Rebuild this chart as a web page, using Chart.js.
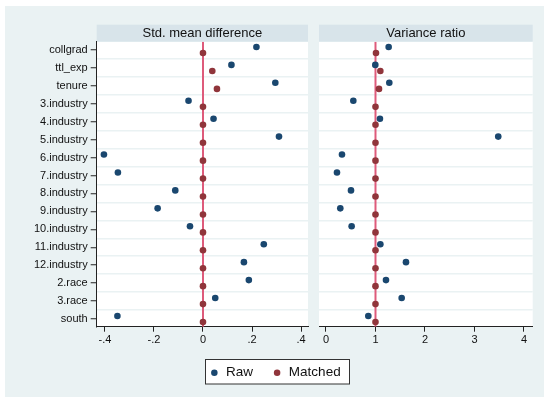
<!DOCTYPE html>
<html>
<head>
<meta charset="utf-8">
<script src="https://cdn.jsdelivr.net/npm/chart.js@4.4.1/dist/chart.umd.min.js"></script>
<style>
html, body { margin: 0; padding: 0; background: #fff; }
#wrap { position: relative; width: 544px; height: 400px; overflow: hidden; }
#bg { position: absolute; left: 5px; top: 6px; width: 539px; height: 391px; background: #eaf2f3; }
canvas { position: absolute; }
</style>
</head>
<body>
<div id="wrap">
  <div id="bg"></div>
  <canvas id="smd" width="312" height="360" style="left:0px;top:0px"></canvas>
  <canvas id="vr" width="232" height="360" style="left:312px;top:0px"></canvas>
  <canvas id="key" width="180" height="120" style="left:185.4px;top:346.5px"></canvas>
</div>
<script>
// balance check: raw vs matched sample
const variables = ["collgrad", "ttl_exp", "tenure", "3.industry", "4.industry", "5.industry",
    "6.industry", "7.industry", "8.industry", "9.industry", "10.industry", "11.industry",
    "12.industry", "2.race", "3.race", "south"];
const seriesNames = ["Raw", "Matched"];
const panelTitles = ["Std. mean difference", "Variance ratio"];

const rawSMD = [0.218, 0.116, 0.295, -0.059, 0.043, 0.310, -0.404, -0.347,
    -0.113, -0.185, -0.053, 0.248, 0.167, 0.187, 0.050, -0.349];
const matchedSMD = [0, 0.038, 0.057, 0, 0, 0, 0, 0, 0, 0, 0, 0, 0, 0, 0, 0];
const rawVR = [1.266, 0.996, 1.279, 0.552, 1.090, 3.480, 0.323, 0.222,
    0.505, 0.289, 0.518, 1.098, 1.616, 1.212, 1.529, 0.855];
const matchedVR = [1.010, 1.098, 1.071, 1, 1, 1, 1, 1, 1, 1, 1, 1, 1, 1, 1, 1];

const smdRef = 0;
const vrRef = 1;
const smdTicks = [-0.4, -0.2, 0, 0.2, 0.4];
const smdTickLabels = ["-.4", "-.2", "0", ".2", ".4"];
const vrTicks = [0, 1, 2, 3, 4];
const vrTickLabels = ["0", "1", "2", "3", "4"];

const NAVY = "#1a476f";
const MAROON = "#90353b";
const REFLINE = "#de5b7b";
const GRID = "#eaf2f3";
const STRIP = "#d8e4ea";
const INK = "#111";
const FONT = '"Liberation Sans", Arial, sans-serif';
const Y_MIN = -0.463, Y_MAX = 15.43;
const SHIFT = 0.17; // raw a bit above, matched a bit below the row

function pts(vals, shift) {
    return vals.map((v, i) => ({ x: v, y: i + shift }));
}

const header = {
    id: "header",
    beforeDraw(chart, args, opts) {
        const { ctx, chartArea: a } = chart;
        ctx.save();
        ctx.fillStyle = "#fff";
        ctx.fillRect(a.left, a.top, a.width, a.height);
        ctx.fillStyle = STRIP;
        ctx.fillRect(a.left, a.top - 17, a.width, 17);
        ctx.fillStyle = INK;
        ctx.font = "13px " + FONT;
        ctx.textAlign = "center";
        ctx.textBaseline = "middle";
        ctx.fillText(opts.text, (a.left + a.right) / 2, a.top - 8.3);
        ctx.restore();
    }
};

function yScale(showLabels) {
    return {
        type: "linear", reverse: true, min: Y_MIN, max: Y_MAX,
        afterBuildTicks: s => {
            s.ticks = [];
            for (let k = 0; k <= 2 * (variables.length - 1); k++) s.ticks.push({ value: k / 2 });
        },
        afterFit: s => { s.width = showLabels ? 96.7 : 7; },
        ticks: {
            display: showLabels, autoSkip: false, padding: 3, color: INK,
            font: { family: FONT, size: 11 },
            callback: v => Number.isInteger(v) ? variables[v] : ""
        },
        grid: {
            color: c => Number.isInteger(c.tick.value) ? "rgba(0,0,0,0)" : GRID,
            lineWidth: 1.5,
            drawTicks: showLabels, tickLength: 6, tickWidth: 1,
            tickColor: c => Number.isInteger(c.tick.value) ? "#222" : "rgba(0,0,0,0)"
        },
        border: { display: showLabels, color: "#222", width: 1 }
    };
}

function xScale(min, max, ticks, labels) {
    return {
        type: "linear", min: min, max: max,
        afterBuildTicks: s => { s.ticks = ticks.map(v => ({ value: v })); },
        afterFit: s => { s.height = 33.3; },
        ticks: {
            color: INK, font: { family: FONT, size: 11 }, padding: 2,
            autoSkip: false, maxRotation: 0,
            callback: (v, i) => labels[i]
        },
        grid: { drawOnChartArea: false, drawTicks: true, tickLength: 5, tickColor: "#222" },
        border: { color: "#222", width: 1 }
    };
}

function panel(id, raw, matched, ref, title, xs, padRight) {
    return new Chart(document.getElementById(id), {
        type: "scatter",
        data: {
            datasets: [{
                label: seriesNames[0], data: pts(raw, -SHIFT),
                backgroundColor: NAVY, borderColor: NAVY,
                pointRadius: 3.3, pointBorderWidth: 0, order: 2
            }, {
                label: seriesNames[1], data: pts(matched, SHIFT),
                backgroundColor: MAROON, borderColor: MAROON,
                pointRadius: 3.3, pointBorderWidth: 0, order: 1
            }, {
                label: "ref", data: [{ x: ref, y: Y_MIN }, { x: ref, y: Y_MAX }],
                showLine: true, borderColor: REFLINE, borderWidth: 2,
                pointRadius: 0, order: 3
            }]
        },
        options: {
            responsive: false,
            animation: false,
            layout: { padding: { top: 41.7, right: padRight, bottom: 0, left: 0 } },
            scales: { x: xs, y: yScale(id === "smd") },
            plugins: {
                legend: { display: false },
                tooltip: { enabled: false },
                header: { text: title }
            }
        },
        plugins: [header]
    });
}

panel("smd", rawSMD, matchedSMD, smdRef, panelTitles[0],
    xScale(-0.4335, 0.4283, smdTicks, smdTickLabels), 2);
panel("vr", rawVR, matchedVR, vrRef, panelTitles[1],
    xScale(-0.1414, 4.176, vrTicks, vrTickLabels), 11.3);

// legend in its own little box
const keyBox = {
    id: "keyBox",
    beforeDraw(chart) {
        const ctx = chart.ctx;
        ctx.save();
        ctx.fillStyle = "#fff";
        ctx.fillRect(20.5, 12.5, 144, 24.5);
        ctx.strokeStyle = "#333";
        ctx.lineWidth = 1;
        ctx.strokeRect(20.5, 12.5, 144, 24.5);
        ctx.restore();
    }
};

new Chart(document.getElementById("key"), {
    type: "scatter",
    data: {
        datasets: [
            { label: seriesNames[0], data: [], backgroundColor: NAVY, borderColor: NAVY, borderWidth: 0 },
            { label: seriesNames[1], data: [], backgroundColor: MAROON, borderColor: MAROON, borderWidth: 0 }
        ]
    },
    options: {
        responsive: false,
        animation: false,
        scales: { x: { display: false }, y: { display: false } },
        plugins: {
            tooltip: { enabled: false },
            legend: {
                display: true, position: "top",
                labels: {
                    usePointStyle: true, pointStyle: "circle",
                    boxWidth: 10, boxHeight: 4.6, padding: 19,
                    color: INK, font: { family: FONT, size: 13.5 }
                }
            }
        }
    },
    plugins: [keyBox]
});
</script>
</body>
</html>
